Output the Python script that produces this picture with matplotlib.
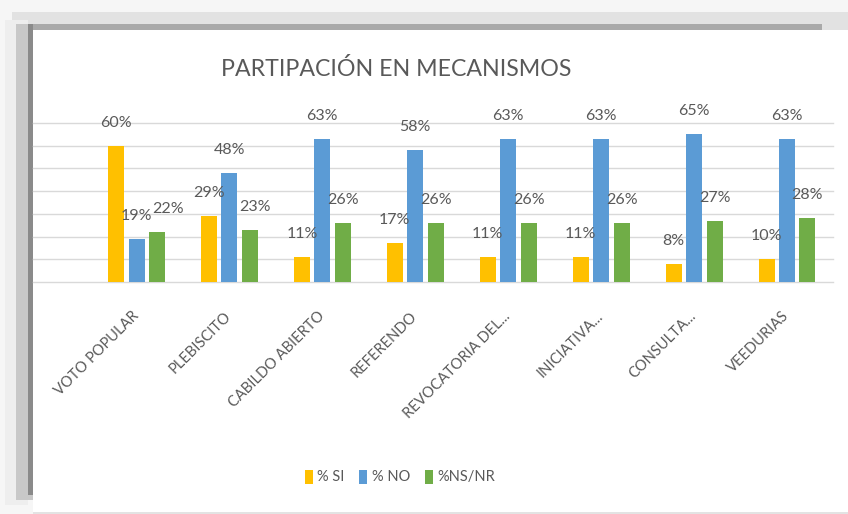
import matplotlib.pyplot as plt
import matplotlib.patches as mpatches
import matplotlib.transforms as mtrans
import numpy as np

categorias = ['VOTO POPULAR', 'PLEBISCITO', 'CABILDO ABIERTO', 'REFERENDO',
              'REVOCATORIA DEL...', 'INICIATIVA...', 'CONSULTA...', 'VEEDURIAS']
si = [60, 29, 11, 17, 11, 11, 8, 10]
no = [19, 48, 63, 58, 63, 63, 65, 63]
nsnr = [22, 23, 26, 26, 26, 26, 27, 28]
series = ['% SI', '% NO', '%NS/NR']
colores = ['#FFC000', '#5B9BD5', '#70AD47']
gris = '#595959'

plt.rcParams['font.family'] = ['Lato', 'DejaVu Sans']

W, H = 848, 514
fig = plt.figure(figsize=(W / 100, H / 100), dpi=100, facecolor='#f6f6f6')

def rect(x0, y0, x1, y1, c):
    # pixel box -> figure fraction
    fig.patches.append(mpatches.Rectangle((x0 / W, 1 - y1 / H), (x1 - x0) / W, (y1 - y0) / H,
                                          transform=fig.transFigure, color=c, zorder=-5, lw=0))

# marco con sombra
rect(12, 12, 848, 30, '#e2e2e2')
rect(5, 20, 28, 505, '#eeeeee')
rect(16, 24, 33, 500, '#c8c8c8')
rect(28, 24, 822, 30, '#a9a9a9')
rect(28, 24, 33, 495, '#8a8a8a')
rect(33, 30, 848, 512, 'white')
rect(33, 512, 848, 514, '#e3e3e3')

ax = fig.add_axes([33 / W, (H - 282) / H, 800 / W, 159 / H])
ax.set_facecolor('none')

x = np.arange(len(categorias))
ancho = 0.172
paso = 0.22
for i, (vals, nom, col) in enumerate(zip([si, no, nsnr], series, colores)):
    pos = x + (i - 1) * paso
    ax.bar(pos, vals, ancho, color=col, label=nom, zorder=3)
    for j, (px, v) in enumerate(zip(pos, vals)):
        dx = 0
        if i == 2 and j == 0:
            dx = 8   # etiqueta corrida como en el original
        elif i == 2 and j == 1:
            dx = 4
        ax.annotate(f'{v}%', (px, v), xytext=(dx, 16.5), textcoords='offset points',
                    ha='center', va='center', fontsize=11.5, color=gris, zorder=4)

ax.set_ylim(0, 70)
ax.set_xlim(-1.114, 7.495)
ax.set_yticks(np.arange(0, 71, 10))
ax.set_yticklabels([])
ax.tick_params(axis='y', length=0)
ax.grid(axis='y', color='#d9d9d9', lw=1, zorder=0)
for gl in ax.get_ygridlines():
    gl.set_clip_on(False)
for s in ax.spines.values():
    s.set_visible(False)

ax.set_xticks(x)
ax.set_xticklabels(categorias, fontsize=10.5, color=gris)
ax.tick_params(axis='x', length=0, pad=19.5)
desplaza = mtrans.ScaledTranslation(-5 / 100, 0, fig.dpi_scale_trans)
for lab in ax.get_xticklabels():
    lab.set_rotation(45)
    lab.set_ha('right')
    lab.set_va('top')
    lab.set_rotation_mode('anchor')
    lab.set_transform(lab.get_transform() + desplaza)

fig.text(396 / W, 1 - 69 / H, 'PARTIPACIÓN EN MECANISMOS', ha='center', va='center',
         fontsize=16.7, color=gris)

fig.legend(loc='center', bbox_to_anchor=(400 / W, 1 - 477 / H), ncol=3, frameon=False,
           fontsize=10.5, labelcolor=gris, handlelength=0.55, handleheight=1.1,
           handletextpad=0.3, columnspacing=1.0)

fig.savefig('out.png', dpi=100, facecolor=fig.get_facecolor())
